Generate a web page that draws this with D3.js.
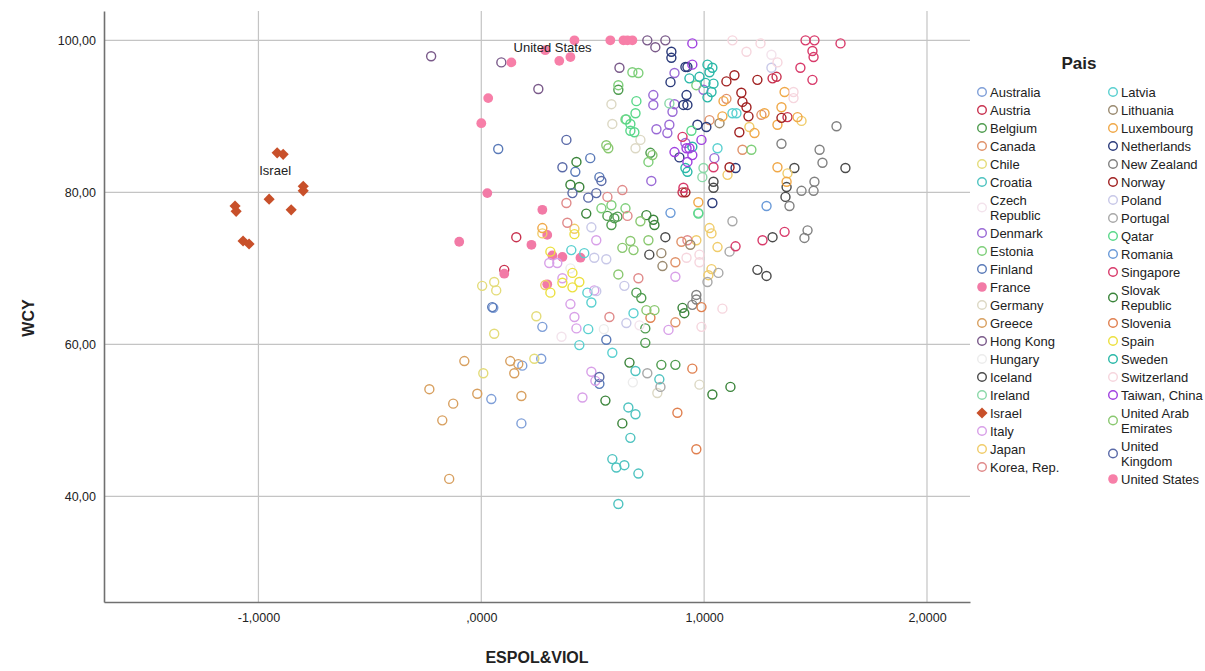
<!DOCTYPE html>
<html>
<head>
<meta charset="utf-8">
<script src="https://cdn.jsdelivr.net/npm/d3@7"></script>
<style>
body { margin: 0; background: #fff; }
text { font-family: "Liberation Sans", Arial, sans-serif; fill: #222; }
</style>
</head>
<body>
<script>

// ESPOL&VIOL (x) and WCY (y), one array per country
australia = [[0.054,64.8],[0.045,52.8],[0.180,49.6],[0.269,58.1],[0.184,57.2],[0.274,62.3]]
austria = [[1.307,95.0],[1.325,95.2],[1.374,89.9],[0.157,74.1],[0.103,69.8],[0.903,80.0]]
belgium = [[0.615,93.5],[0.759,85.2],[0.566,76.9],[0.597,76.6],[0.584,75.7],[0.611,76.8],[0.696,66.8],[0.718,66.1],[0.736,62.1],[0.736,60.2],[0.808,57.3],[0.871,57.3]]
canada = [[1.100,92.3],[1.024,89.5],[1.172,85.6],[1.257,90.2],[0.898,73.5],[0.871,70.8],[0.871,62.9]]
chile = [[0.058,68.2],[0.004,67.7],[0.067,67.1],[0.247,63.7],[0.058,61.4],[0.009,56.2],[0.238,58.1]]
croatia = [[0.660,51.7],[0.692,50.8],[0.669,47.7],[0.588,44.9],[0.606,43.8],[0.642,44.1],[0.705,43.0],[0.615,39.0],[0.692,56.5],[0.799,55.4]]
czech = [[1.302,98.1],[0.71,62.5],[0.36,61.0]]
denmark = [[0.867,95.7],[0.772,92.8],[0.772,91.5],[0.867,91.6],[0.858,90.6],[0.786,88.3],[0.835,87.8],[0.844,88.9],[0.916,86.5],[0.763,81.5],[1.046,84.5],[0.997,93.5]]
estonia = [[0.678,95.8],[0.705,95.7],[0.615,94.1],[0.647,89.6],[0.750,84.0],[0.539,77.9],[0.647,77.9],[0.965,94.1],[1.212,85.6],[0.584,78.3]]
finland = [[0.076,85.7],[0.489,84.5],[0.422,82.7],[0.530,82.0],[0.561,60.6],[0.530,54.8],[0.049,64.9]]
france = [[0.027,79.9],[0.274,77.7],[0.225,73.1],[-0.099,73.5],[0.296,74.4],[0.319,71.7],[0.364,71.5],[0.445,71.4],[0.296,67.9],[0.103,69.3]]
germany = [[0.584,91.6],[0.588,89.0],[0.714,86.9],[0.692,85.8],[0.790,53.6],[0.979,54.7]]
greece = [[-0.233,54.1],[-0.126,52.2],[-0.175,50.0],[-0.144,42.3],[-0.018,53.5],[0.130,57.8],[0.166,57.4],[0.148,56.2],[0.180,53.2],[-0.076,57.8]]
hongKong = [[-0.225,97.9],[0.090,97.1],[0.256,93.6],[0.745,100],[0.781,99.1],[0.826,100],[0.620,96.4]]
hungary = [[0.55,62.0],[0.68,55.0],[0.40,70.0]]
iceland = [[1.042,81.4],[1.042,80.6],[1.405,83.2],[1.634,83.2],[1.370,80.7],[1.365,79.4],[1.307,74.1],[1.239,69.8],[1.280,69.0],[0.826,74.1],[0.754,71.8]]
ireland = [[0.844,91.7],[0.997,83.2],[0.992,82.0],[0.974,77.3]]
israel = [[-0.916,85.2],[-0.889,85.0],[-0.799,80.8],[-0.799,80.2],[-0.952,79.1],[-1.105,78.2],[-1.100,77.5],[-0.853,77.7],[-1.069,73.6],[-1.042,73.2]]
italy = [[0.364,68.7],[0.305,70.7],[0.341,70.7],[0.507,67.1],[0.400,65.3],[0.418,63.6],[0.427,62.1],[0.494,56.4],[0.512,55.2],[0.454,53.0],[0.871,68.9],[0.840,61.9],[0.516,73.7]]
japan = [[1.203,88.6],[1.437,89.4],[1.105,82.3],[1.374,82.5],[1.024,75.3],[1.033,74.6],[0.965,73.7],[1.060,72.8],[1.033,69.9],[1.019,69.1],[0.418,75.2],[0.287,67.8],[0.274,74.6]]
korea = [[0.633,80.3],[0.382,78.6],[0.566,79.4],[0.656,76.9],[0.386,76.0],[0.705,68.7],[0.575,63.6],[0.925,73.7]]
latvia = [[0.404,72.4],[0.462,72.0],[0.476,66.8],[0.494,65.5],[0.480,62.0],[0.440,59.9],[0.588,58.9],[0.683,64.1],[1.060,85.8],[1.127,90.4],[1.145,90.4]]
lithuania = [[1.069,89.1],[0.938,73.1],[0.808,72.0],[0.813,70.3]]
luxembourg = [[1.087,92.0],[1.082,90.0],[1.361,93.2],[1.347,91.2],[1.271,90.4],[1.226,87.8],[1.329,88.9],[1.419,89.9],[1.329,83.3],[1.370,81.4],[0.974,78.7],[0.274,75.3]]
netherlands = [[0.853,98.5],[0.853,97.7],[0.916,96.5],[0.925,96.5],[0.849,94.5],[0.921,92.8],[0.907,91.5],[0.925,91.5],[0.970,88.9],[1.010,88.6],[0.889,84.6],[1.037,78.6],[1.141,83.2]]
newZealand = [[1.594,88.7],[1.518,85.6],[1.531,83.9],[1.495,81.4],[1.491,80.2],[1.437,80.2],[1.347,86.4],[1.383,78.2],[1.464,75.0],[1.450,74.0],[0.965,66.5],[0.965,65.9],[0.947,65.2]]
norway = [[1.100,94.6],[1.136,95.4],[1.239,94.8],[1.167,93.1],[1.172,91.9],[1.190,91.2],[1.199,90.0],[1.158,87.9],[1.347,89.8],[1.114,83.3],[0.916,80.0]]
poland = [[1.302,96.4],[0.494,75.4],[0.507,71.4],[0.561,71.2],[0.642,67.7],[0.651,62.8],[0.516,67.0]]
portugal = [[1.127,76.2],[1.114,72.2],[1.064,69.4],[1.015,68.2],[0.745,56.2],[0.804,54.4]]
qatar = [[0.696,92.0],[0.692,90.4],[0.651,89.6],[0.669,89.0],[0.669,88.1],[0.687,87.9],[0.943,88.1],[0.974,77.2]]
romania = [[0.849,77.3],[1.280,78.2]]
singapore = [[1.455,100],[1.495,100],[1.612,99.6],[1.486,98.6],[1.491,97.8],[1.432,96.4],[1.486,94.8],[0.903,87.3],[1.042,83.3],[1.262,73.7],[1.361,74.8],[1.141,72.9],[0.907,80.6]]
slovak = [[0.427,84.0],[0.400,81.0],[0.440,80.7],[0.471,77.2],[0.741,77.0],[0.772,76.4],[0.777,75.7],[0.903,64.8],[0.911,64.1],[1.037,53.4],[1.118,54.4],[0.665,57.6],[0.557,52.6],[0.633,49.6]]
slovenia = [[0.759,63.5],[0.988,64.9],[0.947,56.8],[0.880,51.0],[0.965,46.2]]
spain = [[0.418,74.5],[0.409,69.4],[0.440,68.2],[0.364,68.1],[0.409,67.5],[0.310,72.2],[0.310,66.8]]
sweden = [[1.006,94.4],[1.042,94.3],[1.033,93.2],[1.015,92.5],[0.916,83.2],[0.925,82.7],[0.947,86.0],[1.015,96.8],[1.037,96.4],[1.024,95.8],[0.934,95.0],[0.979,95.2]]
switzerland = [[1.127,100],[1.253,99.6],[1.190,98.5],[1.329,97.1],[1.401,93.2],[1.401,92.4],[0.921,71.4],[0.979,71.8],[0.979,70.8],[1.082,64.7],[0.988,62.3]]
taiwan = [[0.947,99.6],[0.947,96.8],[0.988,86.9],[0.867,85.3],[0.947,84.9],[0.925,84.0],[0.921,85.8],[0.934,85.8]]
uae = [[0.561,86.2],[0.570,85.8],[0.768,84.9],[0.714,76.2],[0.633,72.7],[0.669,73.6],[0.683,72.4],[0.750,73.7],[0.615,69.2],[0.741,64.5],[0.777,64.5]]
uk = [[0.382,86.9],[0.364,83.3],[0.539,81.5],[0.409,79.9],[0.480,79.3],[0.516,79.9],[0.530,55.7]]
usa = [[0.418,100],[0.579,100],[0.638,100],[0.656,100],[0.678,100],[0.287,98.7],[0.135,97.1],[0.350,97.3],[0.400,97.8],[0.031,92.4],[0.0,89.1]]

countries = ["Australia","Austria","Belgium","Canada","Chile","Croatia","Czech Republic","Denmark","Estonia","Finland","France","Germany","Greece","Hong Kong","Hungary","Iceland","Ireland","Israel","Italy","Japan","Korea, Rep.",
        "Latvia","Lithuania","Luxembourg","Netherlands","New Zealand","Norway","Poland","Portugal","Qatar","Romania","Singapore","Slovak Republic","Slovenia","Spain","Sweden","Switzerland","Taiwan, China","United Arab Emirates","United Kingdom","United States"]
seriesValues = [australia, austria, belgium, canada, chile, croatia, czech, denmark, estonia, finland, france, germany, greece, hongKong, hungary, iceland, ireland, israel, italy, japan, korea,
        latvia, lithuania, luxembourg, netherlands, newZealand, norway, poland, portugal, qatar, romania, singapore, slovak, slovenia, spain, sweden, switzerland, taiwan, uae, uk, usa]
// legend lines, where the label wraps
legendLines = {"Czech Republic": ["Czech", "Republic"], "Slovak Republic": ["Slovak", "Republic"],
        "United Arab Emirates": ["United Arab", "Emirates"], "United Kingdom": ["United", "Kingdom"]}
xTicks = [-1, 0, 1, 2]
yTicks = [40, 60, 80, 100]
pointLabels = [["Israel", -0.925, 82.3], ["United States", 0.32, 98.5]]

colors = ["#7f9fd8","#c8324f","#4f9c4f","#e0926a","#e4dc7a","#4ec3c0","#f3e3ec","#9a6ad6","#7ecf7a","#5a7ab8","#f27aa6","#dcd8c4","#d8a060","#7a5a8a","#ececec","#4a4a4a","#8ad8a8","#c8502a","#d8a0e8","#f0cc6a","#e08a8a",
        "#5ad0d0","#9a8a70","#f0a848","#2a3a7a","#808080","#a02020","#c8c8e8","#a8a8a8","#5ad88a","#6a9ad8","#d83a6a","#3a843a","#e08050","#ece040","#2ab8a8","#f6d6de","#a040e0","#8ac870","#5a6aa8","#f77fa8"]
filled = {"France": "circle", "United States": "circle", "Israel": "diamond"}

w = 1205
h = 671

svg = d3.select("body").append("svg")
        .attr("width", w)
        .attr("height", h)

x = d3.scaleLinear().domain([-1.693, 2.193]).range([104, 970])
y = d3.scaleLinear().domain([26.1, 103.86]).range([602, 11])

function comma(s) {
        return s.replace(".", ",").replace("\u2212", "-")
}

// grid
grid = svg.append("g").attr("class", "grid")
grid.selectAll("line.h").data(yTicks).enter().append("line")
        .attr("x1", x.range()[0]).attr("x2", x.range()[1])
        .attr("y1", function(d) { return y(d) }).attr("y2", function(d) { return y(d) })
        .attr("stroke", "#c4c4c4").attr("stroke-width", 1.2)
grid.selectAll("line.v").data(xTicks).enter().append("line")
        .attr("y1", y.range()[0]).attr("y2", y.range()[1])
        .attr("x1", function(d) { return x(d) }).attr("x2", function(d) { return x(d) })
        .attr("stroke", "#c4c4c4").attr("stroke-width", 1.2)

// axes
yAxis = d3.axisLeft(y).tickValues(yTicks).tickSize(0).tickPadding(8)
        .tickFormat(function(d) { return comma(d3.format(".2f")(d)) })
xAxis = d3.axisBottom(x).tickValues(xTicks).tickSize(0).tickPadding(11)
        .tickFormat(function(d) { return comma(d3.format(".4f")(d)).replace(/^0,/, ",") })

gy = svg.append("g").attr("transform", "translate(104,0)").call(yAxis)
gx = svg.append("g").attr("transform", "translate(0,602)").call(xAxis)
gy.select(".domain").attr("stroke", "#707070").attr("stroke-width", 1.6)
gx.select(".domain").attr("stroke", "#707070").attr("stroke-width", 1.6)
svg.selectAll(".tick text").attr("font-size", 12.5).attr("fill", "#222")
        .attr("font-family", "Liberation Sans, Arial, sans-serif")

svg.append("text").attr("transform", "translate(34,318) rotate(-90)")
        .attr("text-anchor", "middle").attr("font-size", 16).attr("font-weight", "bold")
        .text("WCY")
svg.append("text").attr("x", 537).attr("y", 663)
        .attr("text-anchor", "middle").attr("font-size", 16).attr("font-weight", "bold")
        .text("ESPOL&VIOL")

diamond = d3.symbol().type(d3.symbolSquare).size(62)

// points
points = svg.append("g").attr("class", "points")
countries.forEach(function(c, i) {
        g = points.append("g").attr("class", "country")
        if (filled[c] == "diamond") {
                g.selectAll("path").data(seriesValues[i]).enter().append("path")
                        .attr("d", diamond)
                        .attr("transform", function(d) {
                                return "translate(" + x(d[0]) + "," + y(d[1]) + ") rotate(45)"
                        })
                        .attr("fill", colors[i])
        } else {
                g.selectAll("circle").data(seriesValues[i]).enter().append("circle")
                        .attr("cx", function(d) { return x(d[0]) })
                        .attr("cy", function(d) { return y(d[1]) })
                        .attr("r", filled[c] ? 4.9 : 4.5)
                        .attr("fill", filled[c] ? colors[i] : "none")
                        .attr("stroke", filled[c] ? "none" : colors[i])
                        .attr("stroke-width", 1.4)
        }
})

svg.selectAll("text.plabel").data(pointLabels).enter().append("text")
        .attr("class", "plabel")
        .attr("x", function(d) { return x(d[1]) })
        .attr("y", function(d) { return y(d[2]) })
        .attr("text-anchor", "middle")
        .attr("font-size", 13)
        .text(function(d) { return d[0] })

// legend
legend = svg.append("g").attr("class", "legend")
legend.append("text").attr("x", 1079).attr("y", 69)
        .attr("text-anchor", "middle").attr("font-size", 17).attr("font-weight", "bold")
        .text("Pais")

colX = [982, 1113]
split = 21
rowY = [92, 92]
countries.forEach(function(c, i) {
        col = i < split ? 0 : 1
        lines = legendLines[c] || [c]
        y0 = rowY[col]
        my = y0 + (lines.length - 1) * 7.5
        item = legend.append("g")
        if (filled[c] == "diamond") {
                item.append("path").attr("d", diamond)
                        .attr("transform", "translate(" + colX[col] + "," + my + ") rotate(45)")
                        .attr("fill", colors[i])
        } else {
                item.append("circle").attr("cx", colX[col]).attr("cy", my)
                        .attr("r", filled[c] ? 4.8 : 4.3)
                        .attr("fill", filled[c] ? colors[i] : "none")
                        .attr("stroke", filled[c] ? "none" : colors[i])
                        .attr("stroke-width", 1.4)
        }
        lines.forEach(function(t, k) {
                item.append("text").attr("x", colX[col] + 8).attr("y", y0 + k * 15 + 4.5)
                        .attr("font-size", 13).text(t)
        })
        rowY[col] += lines.length > 1 ? 33 : 18
})

</script>
</body>
</html>
